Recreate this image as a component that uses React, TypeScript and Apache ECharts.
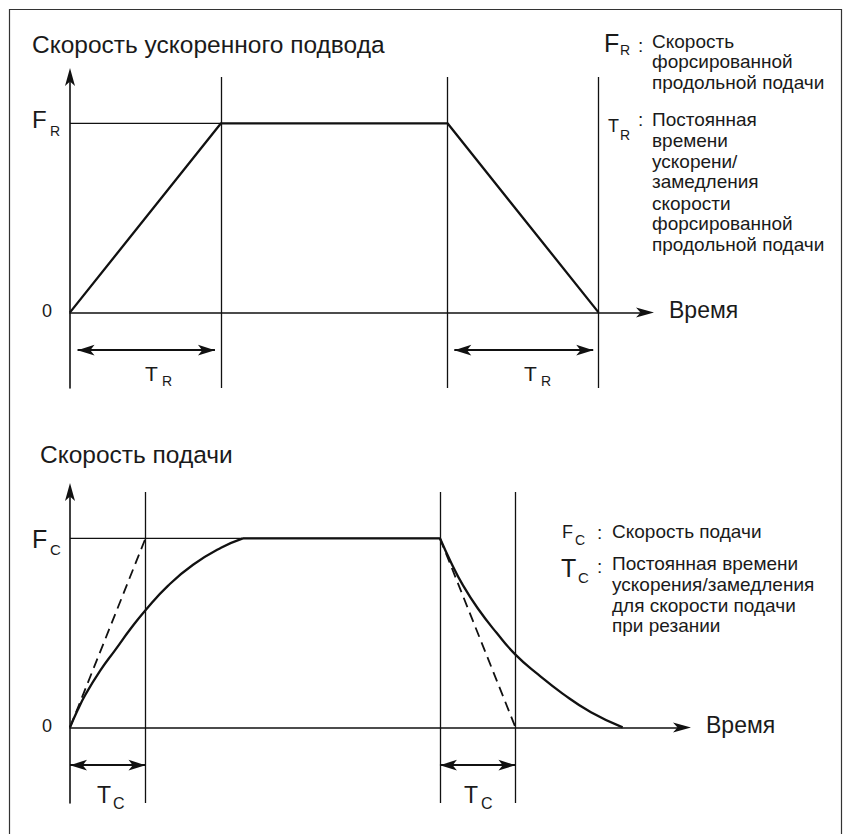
import React, { useEffect, useRef } from 'react';
import * as echarts from 'echarts';

// ---------- data ----------
// upper diagram: rapid traverse (linear accel/decel), time unit: T_R = 2
const RAPID_T = [0, 2, 5, 7];
const RAPID_V = [0, 1, 1, 0];
const RAPID_MARKS = [2, 5, 7];
const RAPID_SPANS = [[0.1, 1.92], [5.09, 6.93]];
const RAPID_GUIDE_T = [0, 2];

// lower diagram: cutting feed (exponential accel/decel), time unit: T_C = 1
const FEED_RISE_T = [0, 0.1, 0.2, 0.4, 0.6, 0.8, 1, 1.3, 1.63, 2, 2.29];
const FEED_RISE_V = [0, 0.09, 0.17, 0.3, 0.41, 0.52, 0.62, 0.75, 0.86, 0.95, 1];
const FEED_FLAT_T = [2.29, 4.9];
const FEED_DECAY_T = [4.9, 5.05, 5.2, 5.4, 5.65, 5.9, 6.2, 6.52, 6.9, 7.32];
const FEED_DECAY_V = [1, 0.87, 0.755, 0.63, 0.5, 0.385, 0.28, 0.18, 0.08, 0];
const FEED_DASH_UP_T = [0, 1];
const FEED_DASH_UP_V = [0, 1];
const FEED_DASH_DOWN_T = [4.9, 5.9];
const FEED_DASH_DOWN_V = [1, 0];
const FEED_MARKS = [1, 4.9, 5.9];
const FEED_SPANS = [[0, 1], [4.9, 5.9]];
const FEED_GUIDE_T = [0, 4.9];

const Y_MIN = -0.4;
const Y_MAX = 1.245;
const SPAN_Y = -0.2;

// ---------- style ----------
const FONT = '"Liberation Sans", Arial, Helvetica, sans-serif';
const INK = '#111';
const PX_PER_UNIT = 75.5;

const zip = (a: number[], b: number[]) => a.map((v, i) => [v, b[i]]);

const txt = (x: number, y: number, text: string, size: number, align = 'left') => ({
  type: 'text',
  x,
  y,
  silent: true,
  style: {
    text,
    fill: '#1a1a1a',
    fontSize: size,
    fontFamily: FONT,
    align,
    verticalAlign: 'middle',
  },
});

const axisLine = {
  show: true,
  onZero: true,
  symbol: ['none', 'arrow'],
  symbolSize: [7.5, 18],
  symbolOffset: [0, 9],
  lineStyle: { color: INK, width: 1.6 },
};

const axisX = (grid: number, max: number) => ({
  type: 'value',
  gridIndex: grid,
  min: 0,
  max,
  axisLine,
  axisTick: { show: false },
  axisLabel: { show: false },
  splitLine: { show: false },
});

const axisY = (grid: number) => ({
  type: 'value',
  gridIndex: grid,
  min: Y_MIN,
  max: Y_MAX,
  axisLine,
  axisTick: { show: false },
  axisLabel: { show: false },
  splitLine: { show: false },
});

const lineSeries = (name: string, grid: number, data: number[][], width: number, extra: any = {}) => ({
  type: 'line',
  name,
  xAxisIndex: grid,
  yAxisIndex: grid,
  data,
  symbol: 'none',
  silent: true,
  emphasis: { disabled: true },
  lineStyle: { color: INK, width, ...(extra.lineStyle || {}) },
  smooth: extra.smooth || false,
  z: extra.z || 3,
  markLine: extra.markLine,
});

const verticals = (marks: number[]) => ({
  silent: true,
  symbol: ['none', 'none'],
  label: { show: false },
  emphasis: { disabled: true },
  lineStyle: { color: INK, width: 1.3, type: 'solid' },
  data: marks.map((v) => ({ xAxis: v })),
});

const spanArrows = (spans: number[][]) => ({
  silent: true,
  symbol: ['arrow', 'arrow'],
  symbolSize: [8, 17],
  label: { show: false },
  emphasis: { disabled: true },
  lineStyle: { color: INK, width: 2, type: 'solid' },
  data: spans.map(([a, b]) => [{ coord: [a, SPAN_Y] }, { coord: [b, SPAN_Y] }]),
});

const option: any = {
  animation: false,
  backgroundColor: '#fff',
  grid: [
    { left: 70, top: 77, width: 575, height: 311 },
    { left: 70, top: 492, width: 612, height: 311 },
  ],
  xAxis: [axisX(0, 575 / PX_PER_UNIT), axisX(1, 612 / PX_PER_UNIT)],
  yAxis: [axisY(0), axisY(1)],
  series: [
    // upper
    lineSeries('Ускоренный подвод', 0, zip(RAPID_T, RAPID_V), 2.3, {
      markLine: verticals(RAPID_MARKS),
      z: 4,
    }),
    lineSeries('F_R', 0, RAPID_GUIDE_T.map((t) => [t, 1]), 1.2, {
      markLine: spanArrows(RAPID_SPANS),
    }),
    // lower
    lineSeries('Подача: разгон', 1, zip(FEED_RISE_T, FEED_RISE_V), 2.3, {
      smooth: 0.5,
      markLine: verticals(FEED_MARKS),
      z: 4,
    }),
    lineSeries('Подача', 1, FEED_FLAT_T.map((t) => [t, 1]), 2.3, { z: 4 }),
    lineSeries('Подача: торможение', 1, zip(FEED_DECAY_T, FEED_DECAY_V), 2.3, {
      smooth: 0.5,
      z: 4,
    }),
    lineSeries('F_C', 1, FEED_GUIDE_T.map((t) => [t, 1]), 1.2, {
      markLine: spanArrows(FEED_SPANS),
    }),
    lineSeries('Линейный разгон', 1, zip(FEED_DASH_UP_T, FEED_DASH_UP_V), 1.8, {
      lineStyle: { type: [10, 6] },
    }),
    lineSeries('Линейное торможение', 1, zip(FEED_DASH_DOWN_T, FEED_DASH_DOWN_V), 1.8, {
      lineStyle: { type: [10, 6] },
    }),
  ],
  graphic: [
    {
      type: 'rect',
      silent: true,
      z: -10,
      shape: { x: 9.5, y: 9.5, width: 832, height: 850 },
      style: { fill: 'none', stroke: '#333', lineWidth: 1.2 },
    },
    // upper diagram texts
    txt(32, 44, 'Скорость ускоренного подвода', 24.5),
    txt(32, 119, 'F', 24),
    txt(50, 131, 'R', 14),
    txt(52, 311, '0', 18, 'right'),
    txt(669, 310, 'Время', 23),
    txt(145, 373, 'T', 21),
    txt(162, 381, 'R', 14),
    txt(524, 373, 'T', 21),
    txt(541, 381, 'R', 14),
    txt(604, 43, 'F', 25),
    txt(620, 50, 'R', 14),
    txt(638, 45, ':', 19),
    txt(652, 41, 'Скорость', 19),
    txt(652, 61, 'форсированной', 19),
    txt(652, 82, 'продольной подачи', 19),
    txt(608, 126, 'T', 18),
    txt(620, 135, 'R', 14),
    txt(638, 119, ':', 19),
    txt(652, 119, 'Постоянная', 19),
    txt(652, 140, 'времени', 19),
    txt(652, 161, 'ускорени/', 19),
    txt(652, 181, 'замедления', 19),
    txt(652, 203, 'скорости', 19),
    txt(652, 223, 'форсированной', 19),
    txt(652, 244, 'продольной подачи', 19),
    // lower diagram texts
    txt(40, 454, 'Скорость подачи', 24.5),
    txt(32, 539, 'F', 25),
    txt(50, 549, 'C', 15),
    txt(52, 726, '0', 18, 'right'),
    txt(706, 725, 'Время', 23),
    txt(97, 795, 'T', 23),
    txt(113, 803, 'C', 16),
    txt(464, 795, 'T', 23),
    txt(481, 803, 'C', 16),
    txt(562, 532, 'F', 18),
    txt(575, 540, 'C', 14),
    txt(597, 532, ':', 19),
    txt(612, 531, 'Скорость подачи', 19),
    txt(561, 568, 'T', 25),
    txt(578, 577, 'C', 15),
    txt(597, 566, ':', 19),
    txt(612, 563, 'Постоянная времени', 19),
    txt(612, 584, 'ускорения/замедления', 19),
    txt(612, 605, 'для скорости подачи', 19),
    txt(612, 625, 'при резании', 19),
  ],
};

export default function App() {
  const ref = useRef<HTMLDivElement>(null);
  useEffect(() => {
    if (!ref.current) return;
    const chart = echarts.init(ref.current, null, { renderer: 'svg' });
    chart.setOption(option);
    return () => chart.dispose();
  }, []);
  return (
    <div
      ref={ref}
      style={{ position: 'absolute', left: 0, top: 0, width: 848, height: 834, background: '#fff' }}
    />
  );
}
